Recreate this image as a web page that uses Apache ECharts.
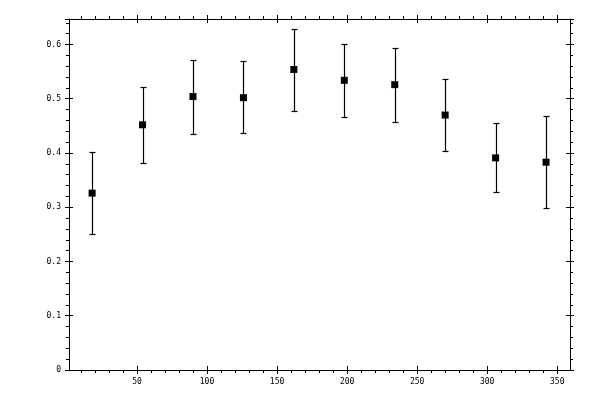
<!DOCTYPE html>
<html>
<head>
<meta charset="utf-8">
<script src="https://cdn.jsdelivr.net/npm/echarts@6/dist/echarts.min.js"></script>
<style>
html,body{margin:0;padding:0;background:#fff;}
#main{width:600px;height:400px;}
</style>
</head>
<body>
<div id="main"></div>
<script>
// data
var xVals = [18, 54, 90, 126, 162, 198, 234, 270, 306, 342];
var yVals = [0.326, 0.452, 0.504, 0.502, 0.554, 0.534, 0.526, 0.470, 0.391, 0.383];
var yLow  = [0.251, 0.382, 0.435, 0.437, 0.478, 0.467, 0.457, 0.404, 0.328, 0.298];
var yHigh = [0.401, 0.522, 0.572, 0.569, 0.628, 0.600, 0.594, 0.537, 0.456, 0.469];

// ticks
var xMajor = [50, 100, 150, 200, 250, 300, 350];
var xMinor = [10, 20, 30, 40, 50, 60, 70, 80, 90, 100, 110, 120, 130, 140, 150, 160, 170, 180,
	190, 200, 210, 220, 230, 240, 250, 260, 270, 280, 290, 300, 310, 320, 330, 340, 350];

var xMin = 1.5, xMax = 359.1;
var yMin = 0, yMax = 0.647;
var font = 'DejaVu Sans Mono';

var pts = [], bars = [];
for (var i = 0; i < xVals.length; i++) {
	pts.push([xVals[i], yVals[i]]);
	bars.push([xVals[i], yLow[i], yHigh[i]]);
}

//x axis: main one (line, labels, small outer ticks) + one shifted in for the long ticks
function xAx(pos, main) {
	var a = {
		type: 'value', position: pos, min: xMin, max: xMax,
		offset: main ? 0 : -4,
		splitLine: {show: false},
		axisLine: {show: main, onZero: false, lineStyle: {color: '#000', width: 1}},
		axisTick: {
			show: true, inside: false, length: main ? 3 : 8,
			customValues: main ? xMinor : xMajor,
			lineStyle: {color: '#000', width: 1}
		},
		axisLabel: {show: false}
	};
	if (main && pos == 'bottom') {
		a.axisLabel = {show: true, customValues: xMajor, margin: 8, color: '#000', fontFamily: font, fontSize: 8};
	}
	return a;
}

function yAx(pos, main) {
	return {
		type: 'value', position: pos, min: yMin, max: yMax, interval: 0.1,
		offset: main ? 0 : -4,
		splitLine: {show: false},
		axisLine: {show: main, onZero: false, lineStyle: {color: '#000', width: 1}},
		axisTick: {show: true, inside: false, length: main ? 3 : 8, lineStyle: {color: '#000', width: 1}},
		minorTick: {show: main, splitNumber: 5, length: 3, lineStyle: {color: '#000', width: 1}},
		axisLabel: {
			show: main && pos == 'left', margin: 8, color: '#000', fontFamily: font, fontSize: 8,
			showMaxLabel: false
		}
	};
}

var myChart = echarts.init(document.getElementById('main'));
myChart.setOption({
	animation: false,
	backgroundColor: '#fff',
	grid: {left: 69, right: 30, top: 19, bottom: 30},
	xAxis: [xAx('bottom', true), xAx('bottom', false), xAx('top', true), xAx('top', false)],
	yAxis: [yAx('left', true), yAx('left', false), yAx('right', true), yAx('right', false)],
	series: [
		{
			type: 'custom',
			xAxisIndex: 0, yAxisIndex: 0,
			data: bars,
			renderItem: function (params, api) {
				var x = api.value(0);
				var lo = api.coord([x, api.value(1)]);
				var hi = api.coord([x, api.value(2)]);
				var cx = Math.round(lo[0]) + 0.5;
				var y1 = Math.round(lo[1]) + 0.5, y2 = Math.round(hi[1]) + 0.5;
				var w = 3;
				var st = {stroke: '#000', lineWidth: 1.2};
				return {
					type: 'group',
					children: [
						{type: 'line', shape: {x1: cx, y1: y1, x2: cx, y2: y2}, style: st},
						{type: 'line', shape: {x1: cx - w, y1: y1, x2: cx + w, y2: y1}, style: st},
						{type: 'line', shape: {x1: cx - w, y1: y2, x2: cx + w, y2: y2}, style: st}
					]
				};
			}
		},
		{
			type: 'scatter',
			xAxisIndex: 0, yAxisIndex: 0,
			data: pts,
			symbol: 'rect',
			symbolSize: 7,
			itemStyle: {color: '#000', opacity: 1}
		}
	]
});
</script>
</body>
</html>
